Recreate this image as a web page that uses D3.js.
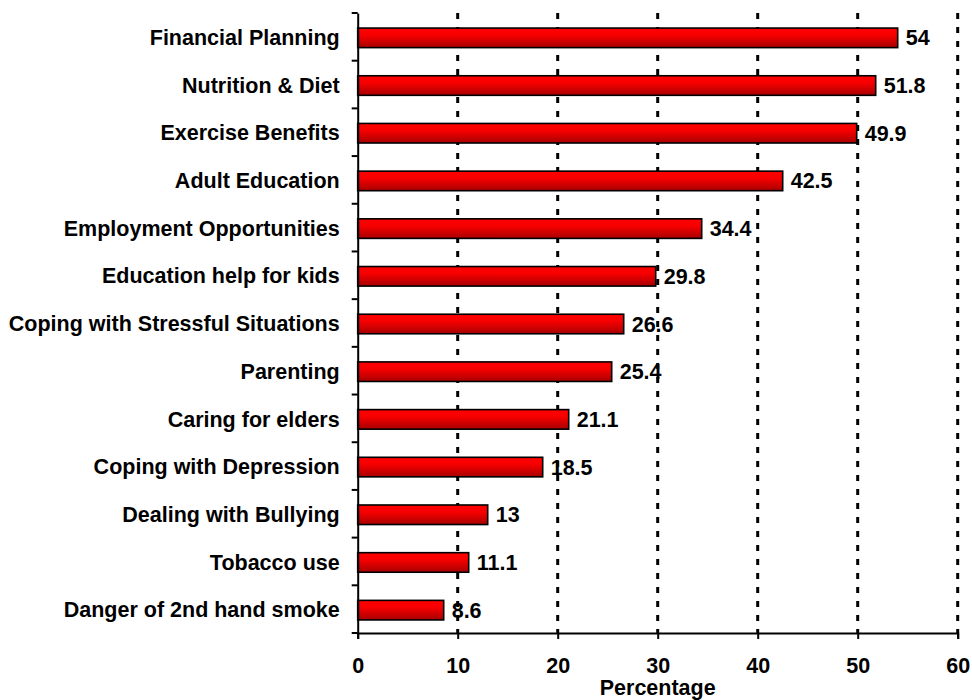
<!DOCTYPE html>
<html>
<head>
<meta charset="utf-8">
<script src="https://cdn.jsdelivr.net/npm/d3@7"></script>
<style>
  html, body { margin: 0; padding: 0; background: #fff; }
  svg { display: block; }
  text { font-family: "Liberation Sans", Arial, sans-serif; font-weight: bold; fill: #000; }
</style>
</head>
<body>
<svg id="chart" width="972" height="700"></svg>
<script>
const categories = [
  "Financial Planning",
  "Nutrition & Diet",
  "Exercise Benefits",
  "Adult Education",
  "Employment Opportunities",
  "Education help for kids",
  "Coping with Stressful Situations",
  "Parenting",
  "Caring for elders",
  "Coping with Depression",
  "Dealing with Bullying",
  "Tobacco use",
  "Danger of 2nd hand smoke"
];
const values = [54, 51.8, 49.9, 42.5, 34.4, 29.8, 26.6, 25.4, 21.1, 18.5, 13, 11.1, 8.6];
const xTicks = [0, 10, 20, 30, 40, 50, 60];
const xTitle = "Percentage";

const svg = d3.select("#chart");
const mLeft = 357.7, mRight = 957.7, mTop = 13, mBottom = 633;
const fs = "21.5px";

const x = d3.scaleLinear().domain([0, 60]).range([mLeft, mRight]);
const yOuter = d3.scaleBand().domain(categories).range([mTop, mBottom]).padding(0);
const y = d3.scaleBand().domain(categories).range([mTop, mBottom]).paddingInner(0.59).paddingOuter(0.295);

const defs = svg.append("defs");
const grad = defs.append("linearGradient").attr("id", "barGrad")
  .attr("x1", 0).attr("y1", 0).attr("x2", 0).attr("y2", 1);
grad.append("stop").attr("offset", "0%").attr("stop-color", "#ff0000");
grad.append("stop").attr("offset", "35%").attr("stop-color", "#f80000");
grad.append("stop").attr("offset", "100%").attr("stop-color", "#a80000");

// gridlines
svg.append("g").selectAll("line").data(xTicks.filter(d => d > 0)).join("line")
  .attr("x1", d => x(d)).attr("x2", d => x(d))
  .attr("y1", mTop).attr("y2", mBottom)
  .attr("stroke", "#000").attr("stroke-width", 3)
  .attr("stroke-dasharray", "6,8");

// bars
svg.append("g").selectAll("rect").data(values).join("rect")
  .attr("x", x(0))
  .attr("y", (d, i) => y(categories[i]) + 1)
  .attr("width", d => x(d) - x(0))
  .attr("height", y.bandwidth())
  .attr("fill", "url(#barGrad)")
  .attr("stroke", "#000").attr("stroke-width", 1.6);

// value labels
svg.append("g").selectAll("text").data(values).join("text")
  .attr("x", d => x(d) + 8)
  .attr("y", (d, i) => y(categories[i]) + 1 + y.bandwidth() / 2)
  .attr("dy", "0.35em")
  .style("font-size", fs)
  .text(d => d);

// x axis
const xAxis = svg.append("g").attr("transform", `translate(0,${mBottom})`)
  .call(d3.axisBottom(x).tickValues(xTicks).tickSize(6).tickPadding(19).tickFormat(d3.format("d")));
xAxis.select(".domain").attr("stroke", "#000").attr("stroke-width", 2);
xAxis.selectAll(".tick line").attr("stroke", "#000").attr("stroke-width", 2);
xAxis.selectAll("text").style("font-size", fs).style("font-family", "'Liberation Sans', Arial, sans-serif").style("font-weight", "bold").attr("fill", "#000");

// y axis labels
const yAxis = svg.append("g").attr("transform", `translate(${mLeft},0)`)
  .call(d3.axisLeft(yOuter).tickSize(0).tickPadding(18));
yAxis.select(".domain").attr("stroke", "#000").attr("stroke-width", 2);
yAxis.selectAll("text").style("font-size", fs).style("font-family", "'Liberation Sans', Arial, sans-serif").style("font-weight", "bold").attr("fill", "#000")
  .attr("dy", "0.38em");

// y boundary ticks
const bounds = categories.map(c => yOuter(c)).concat([mBottom]);
svg.append("g").selectAll("line").data(bounds).join("line")
  .attr("x1", mLeft - 6).attr("x2", mLeft)
  .attr("y1", d => d).attr("y2", d => d)
  .attr("stroke", "#000").attr("stroke-width", 2);

// axis title
svg.append("text")
  .attr("x", (mLeft + mRight) / 2).attr("y", 695)
  .attr("text-anchor", "middle")
  .style("font-size", fs)
  .text(xTitle);
</script>
</body>
</html>
